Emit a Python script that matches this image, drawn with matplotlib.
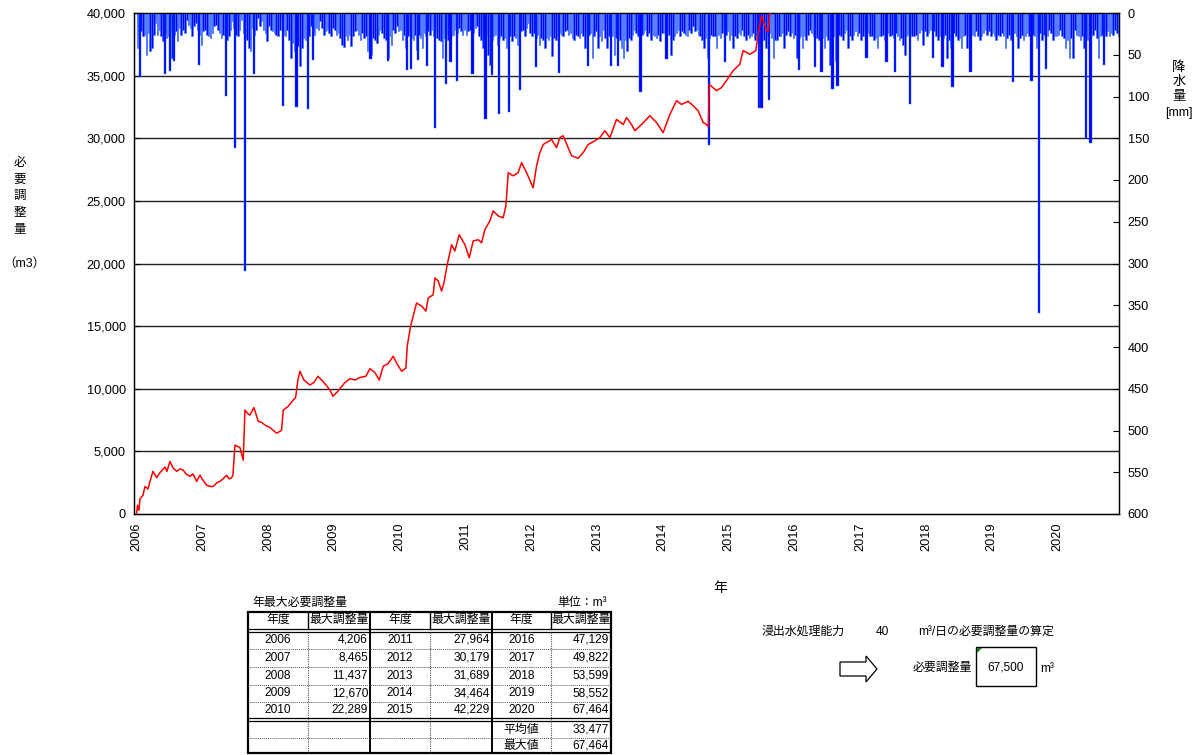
import numpy as np
import matplotlib.pyplot as plt
from matplotlib.patches import Polygon, Rectangle
from matplotlib.ticker import FuncFormatter

plt.rcParams['font.family'] = ['Liberation Sans', 'Noto Sans CJK JP']

# 必要調整量 (m3) - 読み取り値 (年, 値)
vol_t = [2006.000, 2006.016, 2006.038, 2006.053, 2006.099, 2006.130, 2006.175, 2006.205,
         2006.250, 2006.307, 2006.357, 2006.433, 2006.463, 2006.509, 2006.555, 2006.611,
         2006.662, 2006.711, 2006.753, 2006.813, 2006.859, 2006.915, 2006.965, 2007.010,
         2007.067, 2007.117, 2007.167, 2007.223, 2007.269, 2007.315, 2007.371, 2007.406,
         2007.446, 2007.466, 2007.497, 2007.573, 2007.623, 2007.649, 2007.694, 2007.725,
         2007.785, 2007.851, 2007.907, 2007.953, 2008.029, 2008.075, 2008.131, 2008.181,
         2008.206, 2008.231, 2008.307, 2008.383, 2008.419, 2008.454, 2008.485, 2008.545,
         2008.636, 2008.698, 2008.758, 2008.849, 2008.941, 2008.986, 2009.062, 2009.169,
         2009.245, 2009.321, 2009.396, 2009.488, 2009.549, 2009.624, 2009.690, 2009.751,
         2009.823, 2009.903, 2009.959, 2010.031, 2010.096, 2010.116, 2010.167, 2010.207,
         2010.258, 2010.335, 2010.400, 2010.435, 2010.510, 2010.537, 2010.587, 2010.638,
         2010.674, 2010.723, 2010.791, 2010.840, 2010.906, 2010.993, 2011.058, 2011.119,
         2011.195, 2011.246, 2011.296, 2011.372, 2011.423, 2011.498, 2011.574, 2011.616,
         2011.651, 2011.726, 2011.802, 2011.854, 2011.930, 2012.030, 2012.082, 2012.132,
         2012.183, 2012.310, 2012.386, 2012.436, 2012.486, 2012.614, 2012.714, 2012.790,
         2012.866, 2012.968, 2013.044, 2013.120, 2013.196, 2013.297, 2013.399, 2013.450,
         2013.525, 2013.576, 2013.678, 2013.804, 2013.906, 2014.006, 2014.108, 2014.210,
         2014.285, 2014.387, 2014.462, 2014.538, 2014.614, 2014.666, 2014.693, 2014.706,
         2014.818, 2014.894, 2014.969, 2015.070, 2015.171, 2015.222, 2015.324, 2015.415,
         2015.450, 2015.501, 2015.578, 2015.602, 2015.643, 2015.750, 2016.900, 2017.900,
         2018.900, 2019.900, 2020.900]
vol_v = [0, 700, 300, 1200, 1500, 2200, 2000, 2600,
         3400, 2900, 3300, 3750, 3400, 4200, 3700, 3400,
         3600, 3500, 3200, 3000, 3200, 2600, 3100, 2700,
         2300, 2200, 2200, 2500, 2600, 2800, 3100, 2800,
         2900, 3100, 5500, 5300, 4300, 8300, 8000, 7900,
         8500, 7400, 7300, 7100, 6900, 6700, 6450, 6600,
         6700, 8300, 8600, 9100, 9300, 10700, 11400, 10700,
         10300, 10500, 11000, 10500, 9900, 9400, 9800, 10500,
         10800, 10700, 10900, 11000, 11600, 11300, 10700, 11800,
         12000, 12600, 12000, 11400, 11650, 13400, 15000, 15800,
         16850, 16600, 16200, 17250, 17500, 18850, 18600, 17800,
         18450, 19900, 21500, 21000, 22300, 21500, 20450, 21800,
         21900, 21650, 22700, 23400, 24200, 23800, 23650, 24600,
         27250, 27000, 27250, 28050, 27250, 26050, 27800, 28850,
         29500, 29900, 29250, 30050, 30200, 28600, 28400, 28850,
         29500, 29800, 30050, 30600, 30050, 31500, 31100, 31650,
         31100, 30600, 31100, 31800, 31250, 30450, 31900, 33000,
         32700, 32950, 32600, 32200, 31250, 31100, 30900, 34300,
         33800, 34050, 34600, 35400, 35900, 37000, 36700, 37000,
         38300, 39800, 38600, 38500, 41000, 42229, 47129, 49822,
         53599, 58552, 67464]

# 日降水量 (mm) - 年ごとの読み取り値 (36区間/年)
rain_years = list(range(2006, 2021))
rain_by_year = [
    [42, 26, 22, 28, 26, 50, 24, 46, 42, 26, 12, 26, 20, 28, 34, 24, 30, 28, 22, 54, 26, 22, 34, 18, 26, 20, 24, 8, 14, 18, 28, 16, 12, 20, 26, 38],
    [22, 20, 26, 28, 30, 24, 16, 14, 20, 24, 30, 26, 26, 32, 28, 20, 10, 18, 26, 28, 20, 8, 24, 28, 32, 42, 46, 18, 26, 20, 6, 16, 10, 20, 24, 34],
    [16, 20, 22, 24, 26, 28, 20, 10, 26, 28, 20, 32, 54, 36, 46, 34, 40, 64, 42, 30, 32, 24, 28, 16, 22, 26, 18, 20, 10, 18, 26, 22, 20, 24, 28, 18],
    [20, 26, 24, 30, 38, 41, 28, 32, 26, 40, 28, 22, 20, 26, 32, 24, 30, 28, 46, 32, 50, 30, 32, 36, 26, 20, 24, 30, 32, 54, 28, 38, 20, 24, 16, 22],
    [20, 32, 26, 42, 28, 24, 30, 32, 26, 44, 26, 30, 42, 24, 28, 22, 26, 20, 28, 24, 30, 32, 34, 54, 30, 26, 32, 54, 28, 26, 20, 24, 18, 22, 26, 20],
    [26, 22, 20, 28, 24, 18, 16, 28, 32, 42, 30, 26, 50, 62, 32, 28, 26, 38, 30, 28, 32, 30, 42, 26, 28, 34, 28, 30, 38, 26, 22, 20, 28, 18, 12, 24],
    [28, 24, 30, 26, 38, 30, 32, 42, 30, 32, 28, 52, 30, 32, 28, 24, 26, 28, 22, 20, 26, 24, 30, 32, 26, 28, 30, 24, 28, 42, 28, 26, 24, 54, 28, 22],
    [42, 28, 34, 20, 30, 42, 28, 32, 28, 50, 30, 28, 32, 42, 54, 32, 46, 30, 32, 26, 20, 24, 28, 22, 26, 24, 20, 28, 24, 32, 26, 28, 30, 26, 34, 24],
    [24, 28, 22, 26, 50, 32, 28, 24, 20, 28, 22, 24, 26, 28, 20, 24, 16, 22, 20, 26, 28, 32, 42, 30, 54, 30, 26, 28, 28, 42, 26, 30, 24, 20, 26, 22],
    [32, 26, 42, 28, 30, 24, 26, 20, 28, 32, 26, 30, 28, 24, 32, 28, 26, 30, 28, 32, 42, 28, 24, 30, 54, 32, 32, 28, 28, 24, 42, 26, 22, 28, 24, 30],
    [26, 54, 30, 28, 42, 28, 32, 26, 20, 24, 28, 26, 30, 32, 28, 30, 42, 28, 32, 62, 30, 28, 58, 30, 26, 28, 32, 24, 20, 42, 28, 32, 26, 22, 28, 24],
    [32, 28, 20, 26, 24, 28, 28, 32, 30, 42, 28, 28, 26, 32, 28, 24, 28, 26, 30, 24, 28, 32, 30, 38, 50, 28, 26, 24, 28, 28, 26, 32, 24, 20, 38, 22],
    [28, 24, 20, 26, 22, 28, 32, 28, 42, 30, 26, 54, 32, 42, 28, 24, 28, 32, 30, 42, 28, 26, 42, 28, 24, 26, 28, 22, 28, 32, 28, 24, 20, 26, 22, 28],
    [24, 28, 32, 26, 28, 24, 28, 42, 30, 26, 32, 28, 24, 28, 42, 30, 26, 32, 28, 24, 28, 22, 26, 28, 42, 28, 24, 32, 26, 22, 28, 20, 24, 32, 28, 28],
    [26, 20, 28, 30, 42, 32, 54, 30, 54, 20, 26, 28, 32, 28, 42, 30, 32, 54, 28, 26, 20, 30, 54, 28, 26, 24, 28, 22, 28, 24, 26, 20, 24, 28, 22, 26],
]

# 大きな降雨 (年, mm)
spike_t = [2006.053, 2006.433, 2006.509, 2006.574, 2006.954, 2007.360, 2007.497, 2007.649,
           2007.785, 2008.231, 2008.434, 2008.611, 2008.687, 2009.559, 2009.826, 2010.116,
           2010.171, 2010.282, 2010.419, 2010.537, 2010.703, 2010.775, 2010.871, 2011.110,
           2011.307, 2011.407, 2011.509, 2011.666, 2011.828, 2012.072, 2012.426, 2012.866,
           2013.211, 2013.322, 2013.662, 2014.058, 2014.706, 2014.944, 2015.465, 2015.501,
           2015.617, 2016.073, 2016.312, 2016.414, 2016.580, 2016.657, 2017.098, 2017.401,
           2017.528, 2017.756, 2018.109, 2018.252, 2018.405, 2018.678, 2019.325, 2019.605,
           2019.719, 2019.823, 2020.430, 2020.501, 2020.708]
spike_mm = [77, 73, 69, 58, 62, 99, 162, 309,
            73, 111, 113, 115, 56, 55, 57, 68,
            67, 56, 63, 138, 85, 59, 82, 73,
            127, 74, 121, 118, 92, 65, 72, 63,
            64, 63, 95, 55, 158, 59, 114, 114,
            104, 68, 65, 71, 91, 87, 54, 59,
            71, 109, 54, 65, 89, 71, 83, 81,
            359, 67, 150, 156, 62]

# 年最大必要調整量 表
tbl_years = [[2006, 2007, 2008, 2009, 2010],
             [2011, 2012, 2013, 2014, 2015],
             [2016, 2017, 2018, 2019, 2020]]
tbl_max = [[4206, 8465, 11437, 12670, 22289],
           [27964, 30179, 31689, 34464, 42229],
           [47129, 49822, 53599, 58552, 67464]]
avg_val = 33477
max_val = 67464
capacity = 40
required = 67500

W, H = 1203, 755
fig = plt.figure(figsize=(W / 100, H / 100), dpi=100)

def fx(px):
    return px / W

def fy(py):
    return 1 - py / H

rect = [fx(134.3), fy(514), fx(1119.3) - fx(134.3), (514 - 13) / H]
ax = fig.add_axes(rect)
ax.set_xlim(2005.967, 2020.94)
ax.set_ylim(0, 40000)
ax.set_yticks(range(0, 40001, 5000))
ax.yaxis.set_major_formatter(FuncFormatter(lambda v, p: f'{v:,.0f}'))
ax.set_xticks(range(2006, 2021))
ax.set_xticklabels([str(y) for y in range(2006, 2021)], rotation=90, fontsize=9.2)
ax.tick_params(axis='x', length=0, pad=6)
ax.tick_params(axis='y', direction='in', length=4, labelsize=9.2, pad=6)
for v in range(5000, 40000, 5000):
    ax.axhline(v, color='#222222', lw=1.0, zorder=0)
for s in ax.spines.values():
    s.set_color('black')
    s.set_linewidth(1.0)

# 降水量 (右軸, 反転)
ax2 = ax.twinx()
ax2.set_ylim(600, 0)
ax2.set_yticks(range(0, 601, 50))
ax2.tick_params(axis='y', direction='in', length=4, labelsize=9.2, pad=6)
step = 1 / 36
for yr, vals in zip(rain_years, rain_by_year):
    xs = [yr + (i + 0.5) * step for i in range(len(vals))]
    ax2.bar(xs, vals, width=step * 0.85, bottom=0, color='#0000ff',
            edgecolor='#3a7dff', linewidth=0.4, align='center')
ax2.bar(spike_t, spike_mm, width=0.035, bottom=0, color='#0000ff',
        edgecolor='#2a6cff', linewidth=0.3)

# 必要調整量 (赤線)
ax3 = ax.twinx()
ax3.set_ylim(0, 40000)
ax3.axis('off')
ax3.plot(vol_t, vol_v, color='#ff0000', lw=1.1)

# 軸ラベル
for i, ch in enumerate('必要調整量'):
    fig.text(fx(20), fy(163 + i * 16.7), ch, ha='center', va='center', fontsize=9)
fig.text(fx(24), fy(264), '（m3）', ha='center', va='center', fontsize=9)
for i, ch in enumerate('降水量'):
    fig.text(fx(1179), fy(68 + i * 14.5), ch, ha='center', va='center', fontsize=9.5)
fig.text(fx(1179), fy(113), '[mm]', ha='center', va='center', fontsize=9)
fig.text(fx(720), fy(588), '年', ha='center', va='center', fontsize=10)

# 表・注記 (ピクセル座標のオーバーレイ)
ov = fig.add_axes([0, 0, 1, 1])
ov.set_xlim(0, W)
ov.set_ylim(H, 0)
ov.axis('off')

fs = 8.6
ov.text(252, 603, '年最大必要調整量', ha='left', va='center', fontsize=fs)
ov.text(607, 603, '単位：m³', ha='right', va='center', fontsize=fs)

cols = [248, 308, 370, 430, 492, 551, 611]
top, bot = 612, 753
ov.add_patch(Rectangle((cols[0], top), cols[-1] - cols[0], bot - top,
                       fill=False, lw=1.6, ec='black'))
for yv in (628.5, 631.5, 718, 721):
    ov.plot([cols[0], cols[-1]], [yv, yv], color='black', lw=0.9)
for yv in (649, 667, 685, 702, 738):
    ov.plot([cols[0], cols[-1]], [yv, yv], color='#555555', lw=0.7, ls=(0, (1, 1)))
for xv in (370, 492):
    ov.plot([xv, xv], [top, bot], color='black', lw=1.4)
for xv in (308, 430, 551):
    ov.plot([xv, xv], [top, 628.5], color='black', lw=1.0)
    ov.plot([xv, xv], [631.5, bot], color='#555555', lw=0.8, ls=(0, (1, 1)))

row_y = [640, 658, 676, 693.5, 710]
for c in range(3):
    xc_year = (cols[2 * c] + cols[2 * c + 1]) / 2
    xc_val = (cols[2 * c + 1] + cols[2 * c + 2]) / 2
    ov.text(xc_year, 620, '年度', ha='center', va='center', fontsize=fs)
    ov.text(xc_val, 620, '最大調整量', ha='center', va='center', fontsize=fs)
    for r in range(5):
        ov.text(xc_year, row_y[r], str(tbl_years[c][r]), ha='center', va='center', fontsize=fs)
        ov.text(cols[2 * c + 2] - 2, row_y[r], f'{tbl_max[c][r]:,}', ha='right', va='center', fontsize=fs)
ov.text((cols[4] + cols[5]) / 2, 729.5, '平均値', ha='center', va='center', fontsize=fs)
ov.text(cols[6] - 2, 729.5, f'{avg_val:,}', ha='right', va='center', fontsize=fs)
ov.text((cols[4] + cols[5]) / 2, 745.5, '最大値', ha='center', va='center', fontsize=fs)
ov.text(cols[6] - 2, 745.5, f'{max_val:,}', ha='right', va='center', fontsize=fs)

# 右側の算定
ov.text(762, 632, '浸出水処理能力', ha='left', va='center', fontsize=fs)
ov.text(882, 632, str(capacity), ha='center', va='center', fontsize=fs)
ov.text(918, 632, 'm³/日の必要調整量の算定', ha='left', va='center', fontsize=fs)
ov.add_patch(Polygon([(840, 662), (866, 662), (866, 656), (877, 669),
                      (866, 682), (866, 676), (840, 676)],
                     closed=True, fill=False, ec='black', lw=0.9))
ov.text(972, 668, '必要調整量', ha='right', va='center', fontsize=fs)
ov.add_patch(Rectangle((976, 647), 60, 39, fill=False, ec='black', lw=1.0))
ov.add_patch(Polygon([(977, 648), (982, 648), (977, 653)], closed=True,
                     color='#008000', lw=0))
ov.text(1006, 667, f'{required:,}', ha='center', va='center', fontsize=fs)
ov.text(1040, 669, 'm³', ha='left', va='center', fontsize=fs)

fig.savefig('out.png', dpi=100)
